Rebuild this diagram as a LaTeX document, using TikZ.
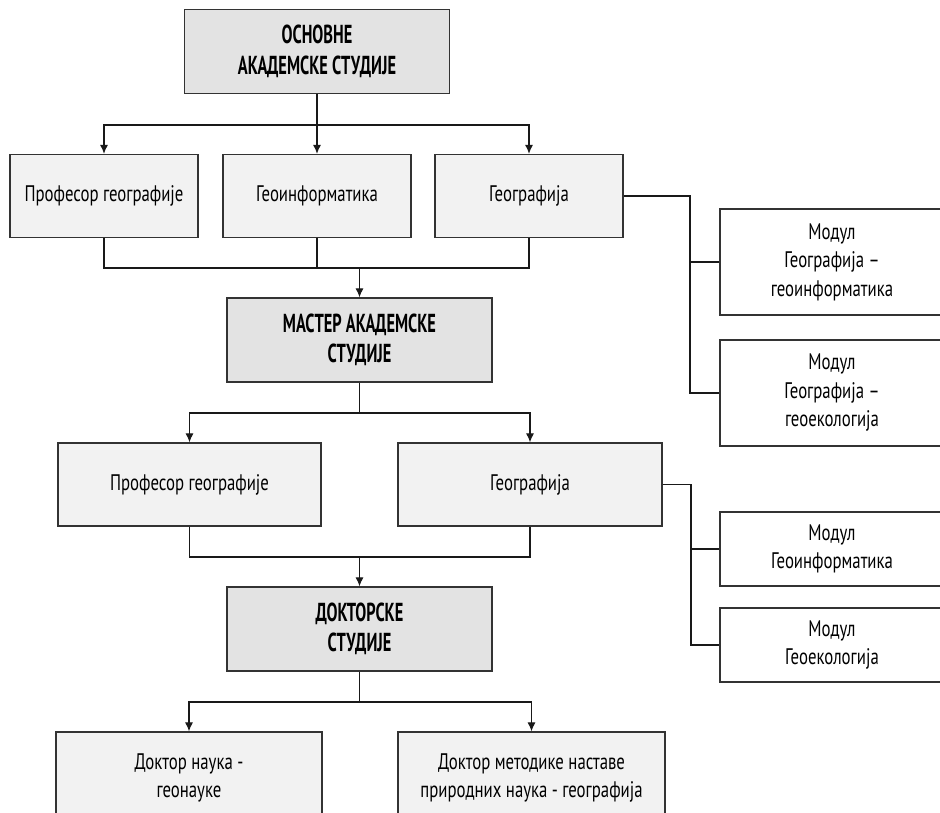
\documentclass[tikz,border=0pt]{standalone}
\usepackage{fontspec}
\setmainfont[FakeStretch=0.745]{PT Sans}
\newfontfamily\titlefont[FakeStretch=0.63]{PT Sans Bold}
\usetikzlibrary{arrows.meta}
\definecolor{lvlgray}{HTML}{E3E3E3}
\definecolor{boxgray}{HTML}{F2F2F2}
\definecolor{edge}{HTML}{333333}
\tikzset{
  base/.style={draw=edge, line width=1.3pt, rectangle, align=center, inner sep=0pt},
  level/.style={base, fill=lvlgray, minimum width=265pt, minimum height=84pt,
    font=\titlefont\fontsize{26}{30.5}\selectfont},
  prog/.style={base, fill=boxgray, minimum height=83pt,
    font=\fontsize{22.5}{28.5}\selectfont},
  modul/.style={base, fill=white, minimum width=224pt,
    font=\fontsize{22.5}{28.5}\selectfont},
  conn/.style={draw=black!90, line width=1.1pt},
  arr/.style={conn, -{Latex[length=9pt,width=8pt]}}
}
\begin{document}
\begin{tikzpicture}[x=1pt,y=-1pt]
\useasboundingbox (0,0) rectangle (940,813);
\fill[white] (0,0) rectangle (940,813);
\clip (0,0) rectangle (940,813);

% level boxes
\node[level] (top) at (317,51.5) {ОСНОВНЕ\\АКАДЕМСКЕ СТУДИЈЕ};
\node[level] (master) at (359.5,340) {МАСТЕР АКАДЕМСКЕ\\СТУДИЈЕ};
\node[level] (doc) at (359.5,629) {ДОКТОРСКЕ\\СТУДИЈЕ};

% row 2
\node[prog, minimum width=188pt] (a1) at (104,196) {Професор географије};
\node[prog, minimum width=188pt] (a2) at (317,196) {Геоинформатика};
\node[prog, minimum width=188pt] (a3) at (529,196) {Географија};

% modules of row 2
\node[modul, minimum height=106pt] (m1) at (832,262) {Модул\\Географија –\\геоинформатика};
\node[modul, minimum height=106pt] (m2) at (832,393) {Модул\\Географија –\\геоекологија};

% row 4
\node[prog, minimum width=263pt] (b1) at (189.5,484.5) {Професор географије};
\node[prog, minimum width=264pt] (b2) at (530,484.5) {Географија};

% modules of row 4
\node[modul, minimum height=74pt] (m3) at (832,549) {Модул\\Геоинформатика};
\node[modul, minimum height=74pt] (m4) at (832,645) {Модул\\Геоекологија};

% bottom row
\node[prog, minimum width=266pt, minimum height=92pt] (c1) at (189,778) {Доктор наука -\\геонауке};
\node[prog, minimum width=267pt, minimum height=92pt] (c2) at (531.5,778) {Доктор методике наставе\\природних наука - географија};

% connectors: top -> row 2
\coordinate (j1) at (317,125);
\draw[conn] (top.south) -- (j1);
\draw[arr] (j1) -| (a1.north);
\draw[arr] (j1) -- (a2.north);
\draw[arr] (j1) -| (a3.north);

% row 2 -> master
\coordinate (j2) at (359.5,268);
\draw[conn] (a1.south) |- (j2);
\draw[conn] (a3.south) |- (j2);
\draw[conn] (a2.south) -- (a2.south |- j2);
\draw[arr] (j2) -- (master.north);

% Geografija -> modules
\coordinate (r1) at (690,196);
\draw[conn] (a3.east) -- (r1) |- (m2.west);
\draw[conn] (r1 |- m1.west) -- (m1.west);

% master -> row 4
\coordinate (j3) at (359.5,413);
\draw[conn] (master.south) -- (j3);
\draw[arr] (j3) -| (b1.north);
\draw[arr] (j3) -| (b2.north);

% row 4 -> doctoral
\coordinate (j4) at (359.5,557);
\draw[conn] (b1.south) |- (j4);
\draw[conn] (b2.south) |- (j4);
\draw[arr] (j4) -- (doc.north);

% Geografija (master) -> modules
\coordinate (r2) at (691,484.5);
\draw[conn] (b2.east) -- (r2) |- (m4.west);
\draw[conn] (r2 |- m3.west) -- (m3.west);

% doctoral -> bottom
\coordinate (j5) at (359.5,702);
\draw[conn] (doc.south) -- (j5);
\draw[arr] (j5) -| (c1.north);
\draw[arr] (j5) -| (c2.north);
\end{tikzpicture}
\end{document}
